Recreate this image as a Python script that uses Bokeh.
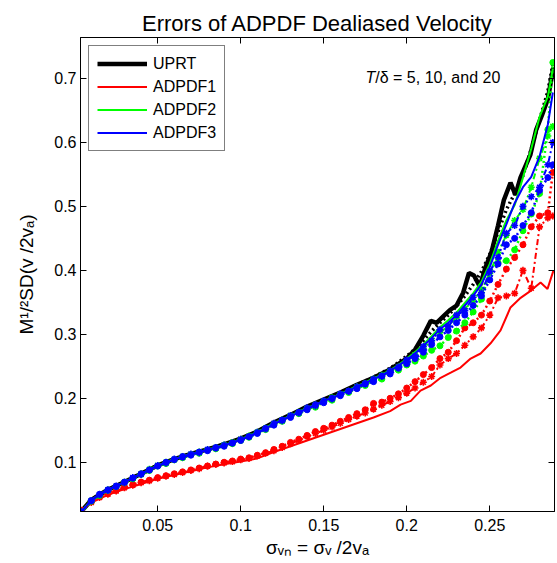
import math
from bokeh.plotting import figure
from bokeh.models import Range1d, FixedTicker, LinearAxis, Label, Legend, LegendItem
from bokeh.embed import file_html
from bokeh.resources import INLINE

FONT = "Liberation Sans"

# ---------------- data ----------------
x_ticks = [0.05, 0.1, 0.15, 0.2, 0.25]
x_tick_labels = ["0.05", "0.1", "0.15", "0.2", "0.25"]
y_ticks = [0.1, 0.2, 0.3, 0.4, 0.5, 0.6, 0.7]
y_tick_labels = ["0.1", "0.2", "0.3", "0.4", "0.5", "0.6", "0.7"]

legend_labels = ["UPRT", "ADPDF1", "ADPDF2", "ADPDF3"]
title_text = "Errors of ADPDF Dealiased Velocity"
x_label = "σᵥₙ = σᵥ /2vₐ"
y_label = "M¹/²SD(v /2vₐ)"

# common sampling of the sigma_vn axis used by most curves
xs = [0.004, 0.010, 0.015, 0.020, 0.025, 0.030, 0.035, 0.040, 0.045, 0.050,
      0.055, 0.060, 0.065, 0.070, 0.075, 0.080, 0.085, 0.090, 0.095, 0.100,
      0.105, 0.110, 0.115, 0.120, 0.125, 0.130, 0.135, 0.140, 0.145, 0.150,
      0.155, 0.160, 0.165, 0.170, 0.175, 0.180, 0.185, 0.190, 0.195, 0.200,
      0.205, 0.210, 0.215, 0.220, 0.225, 0.230, 0.235, 0.240, 0.245, 0.250,
      0.255, 0.260, 0.265, 0.270, 0.275, 0.280, 0.285, 0.288]

# UPRT, T/delta = 5 (thick solid)
uprt5_x = [0.004, 0.01, 0.02, 0.03, 0.04, 0.05, 0.06, 0.07, 0.08, 0.09, 0.10,
           0.11, 0.12, 0.13, 0.14, 0.15, 0.16, 0.17, 0.18, 0.19, 0.20,
           0.205, 0.21, 0.2145, 0.218, 0.222, 0.226, 0.23, 0.234, 0.2375, 0.2405,
           0.244, 0.2475, 0.251, 0.255, 0.2585, 0.2625, 0.2655, 0.2685, 0.2715,
           0.2745, 0.278, 0.2815, 0.285, 0.2884]
uprt5_y = [0.023, 0.041, 0.057, 0.069, 0.082, 0.095, 0.105, 0.113, 0.120, 0.128, 0.137,
           0.148, 0.162, 0.174, 0.187, 0.198, 0.209, 0.221, 0.232, 0.245, 0.262,
           0.276, 0.298, 0.321, 0.318, 0.328, 0.338, 0.345, 0.365, 0.396, 0.392,
           0.375, 0.405, 0.428, 0.470, 0.510, 0.537, 0.518, 0.545, 0.563,
           0.581, 0.620, 0.643, 0.668, 0.718]
# UPRT, T/delta = 20 (thick dotted)
uprt20_y = [0.023, 0.041, 0.050, 0.057, 0.063, 0.069, 0.076, 0.082, 0.089, 0.095,
            0.100, 0.105, 0.109, 0.113, 0.117, 0.120, 0.124, 0.128, 0.132, 0.137,
            0.142, 0.148, 0.155, 0.162, 0.168, 0.174, 0.180, 0.186, 0.192, 0.198,
            0.203, 0.209, 0.215, 0.221, 0.227, 0.233, 0.240, 0.247, 0.256, 0.266,
            0.277, 0.290, 0.305, 0.318, 0.330, 0.344, 0.360, 0.378, 0.398, 0.425,
            0.460, 0.495, 0.520, 0.548, 0.590, 0.635, 0.680, 0.722]

# ADPDF1
adpdf1_5_x = [0.004, 0.01, 0.02, 0.03, 0.04, 0.05, 0.06, 0.07, 0.08, 0.09, 0.10,
              0.11, 0.12, 0.13, 0.14, 0.15, 0.16, 0.17, 0.18, 0.19,
              0.1963, 0.2025, 0.2083, 0.2145, 0.2204, 0.2265, 0.2324, 0.2385, 0.2445,
              0.2505, 0.2565, 0.2625, 0.2686, 0.2746, 0.2806, 0.2848, 0.2884]
adpdf1_5_y = [0.025, 0.037, 0.049, 0.058, 0.066, 0.074, 0.080, 0.086, 0.092, 0.097, 0.101,
              0.106, 0.116, 0.125, 0.134, 0.143, 0.152, 0.161, 0.170, 0.180,
              0.190, 0.196, 0.212, 0.220, 0.232, 0.240, 0.248, 0.262, 0.270,
              0.286, 0.306, 0.342, 0.357, 0.368, 0.381, 0.371, 0.400]
adpdf1_10_y = [0.024, 0.037, 0.045, 0.050, 0.055, 0.060, 0.064, 0.068, 0.071, 0.075,
               0.078, 0.081, 0.084, 0.087, 0.090, 0.094, 0.097, 0.099, 0.101, 0.104,
               0.106, 0.110, 0.114, 0.118, 0.123, 0.129, 0.134, 0.140, 0.145, 0.150,
               0.155, 0.161, 0.167, 0.172, 0.177, 0.183, 0.189, 0.195, 0.201, 0.208,
               0.216, 0.225, 0.234, 0.252, 0.262, 0.270, 0.283, 0.296, 0.310, 0.330,
               0.357, 0.360, 0.364, 0.400, 0.372, 0.468, 0.482, 0.485]
adpdf1_20_y = [0.025, 0.038, 0.046, 0.051, 0.056, 0.061, 0.065, 0.069, 0.072, 0.076,
               0.079, 0.082, 0.085, 0.088, 0.091, 0.094, 0.097, 0.100, 0.102, 0.105,
               0.107, 0.111, 0.115, 0.120, 0.125, 0.131, 0.136, 0.142, 0.148, 0.153,
               0.158, 0.164, 0.170, 0.176, 0.182, 0.192, 0.194, 0.200, 0.207, 0.216,
               0.226, 0.237, 0.248, 0.262, 0.272, 0.290, 0.310, 0.318, 0.330, 0.352,
               0.378, 0.402, 0.420, 0.440, 0.468, 0.485, 0.490, 0.553]

# ADPDF2
adpdf2_5_y = [0.023, 0.041, 0.050, 0.057, 0.063, 0.069, 0.076, 0.082, 0.088, 0.094,
              0.100, 0.105, 0.109, 0.113, 0.116, 0.120, 0.123, 0.127, 0.131, 0.136,
              0.141, 0.147, 0.154, 0.161, 0.167, 0.173, 0.179, 0.185, 0.190, 0.196,
              0.201, 0.207, 0.213, 0.219, 0.225, 0.231, 0.237, 0.244, 0.252, 0.262,
              0.272, 0.284, 0.297, 0.311, 0.322, 0.334, 0.349, 0.364, 0.382, 0.410,
              0.446, 0.478, 0.502, 0.545, 0.590, 0.640, 0.672, 0.715]
adpdf2_10_y = [0.022, 0.040, 0.049, 0.057, 0.062, 0.068, 0.075, 0.082, 0.089, 0.095,
               0.100, 0.104, 0.109, 0.112, 0.116, 0.119, 0.123, 0.127, 0.131, 0.136,
               0.141, 0.147, 0.153, 0.159, 0.166, 0.173, 0.178, 0.183, 0.190, 0.195,
               0.201, 0.206, 0.211, 0.218, 0.223, 0.230, 0.236, 0.242, 0.249, 0.258,
               0.268, 0.278, 0.290, 0.303, 0.313, 0.327, 0.340, 0.352, 0.370, 0.395,
               0.428, 0.455, 0.478, 0.495, 0.530, 0.575, 0.610, 0.625]
adpdf2_20_y = [0.021, 0.039, 0.048, 0.056, 0.062, 0.069, 0.074, 0.081, 0.087, 0.094,
               0.098, 0.104, 0.107, 0.112, 0.114, 0.119, 0.121, 0.126, 0.129, 0.134,
               0.139, 0.146, 0.151, 0.160, 0.164, 0.172, 0.176, 0.184, 0.186, 0.195,
               0.197, 0.206, 0.209, 0.216, 0.220, 0.228, 0.230, 0.241, 0.244, 0.252,
               0.258, 0.266, 0.275, 0.282, 0.295, 0.305, 0.318, 0.335, 0.355, 0.398,
               0.412, 0.415, 0.432, 0.462, 0.488, 0.520, 0.620, 0.725]

# ADPDF3
adpdf3_5_y = [0.022, 0.041, 0.050, 0.057, 0.063, 0.069, 0.075, 0.082, 0.088, 0.094,
              0.099, 0.104, 0.109, 0.112, 0.116, 0.119, 0.123, 0.126, 0.131, 0.135,
              0.141, 0.146, 0.153, 0.160, 0.166, 0.172, 0.178, 0.184, 0.190, 0.196,
              0.201, 0.206, 0.212, 0.218, 0.224, 0.230, 0.236, 0.243, 0.251, 0.260,
              0.270, 0.282, 0.294, 0.308, 0.318, 0.330, 0.345, 0.360, 0.378, 0.405,
              0.440, 0.472, 0.505, 0.530, 0.546, 0.578, 0.628, 0.678]
adpdf3_10_y = [0.023, 0.040, 0.049, 0.056, 0.063, 0.068, 0.076, 0.081, 0.088, 0.095,
               0.099, 0.105, 0.108, 0.113, 0.115, 0.120, 0.122, 0.127, 0.130, 0.136,
               0.140, 0.147, 0.152, 0.161, 0.165, 0.173, 0.177, 0.185, 0.188, 0.196,
               0.199, 0.207, 0.211, 0.218, 0.222, 0.230, 0.234, 0.243, 0.249, 0.260,
               0.266, 0.281, 0.290, 0.307, 0.312, 0.330, 0.337, 0.358, 0.365, 0.398,
               0.420, 0.458, 0.470, 0.500, 0.515, 0.530, 0.565, 0.600]
adpdf3_20_y = [0.022, 0.040, 0.050, 0.057, 0.062, 0.069, 0.075, 0.082, 0.088, 0.094,
               0.100, 0.104, 0.109, 0.111, 0.116, 0.118, 0.123, 0.125, 0.130, 0.134,
               0.140, 0.145, 0.153, 0.158, 0.166, 0.170, 0.178, 0.182, 0.190, 0.193,
               0.200, 0.204, 0.211, 0.215, 0.223, 0.226, 0.235, 0.238, 0.247, 0.254,
               0.262, 0.272, 0.284, 0.296, 0.306, 0.318, 0.330, 0.345, 0.360, 0.385,
               0.410, 0.440, 0.450, 0.470, 0.490, 0.525, 0.545, 0.565]

# ---------------- figure ----------------
W, H = 557, 563
ML, MR, MT, MB = 80, 3, 37, 52
p = figure(width=W, height=H, x_range=Range1d(0.0035, 0.289), y_range=Range1d(0.023, 0.764),
           output_backend="svg", toolbar_location=None,
           min_border_left=ML, min_border_right=MR, min_border_top=MT, min_border_bottom=MB)
p.xgrid.visible = False
p.ygrid.visible = False
p.outline_line_color = "black"
p.outline_line_width = 1
p.background_fill_color = "white"
p.border_fill_color = "white"

p.title.text = title_text
p.title.align = "center"
p.title.offset = 6
p.title.text_font = FONT
p.title.text_font_size = "22px"
p.title.text_font_style = "normal"
p.title.text_color = "black"
p.title.standoff = 4


def style_axis(ax, ticks, labels, show):
    ax.ticker = FixedTicker(ticks=ticks)
    ax.major_tick_in = 6
    ax.major_tick_out = 0
    ax.minor_tick_in = 0
    ax.minor_tick_out = 0
    ax.axis_line_color = "black"
    ax.major_tick_line_color = "black"
    if show:
        ax.major_label_overrides = {t: l for t, l in zip(ticks, labels)}
        ax.major_label_text_font = FONT
        ax.major_label_text_font_size = "16px"
        ax.major_label_text_color = "black"
        ax.axis_label_text_font = FONT
        ax.axis_label_text_font_size = "19px"
        ax.axis_label_text_font_style = "normal"
        ax.axis_label_text_color = "black"
    else:
        # mirror axis: ticks only, no labels drawn
        ax.major_label_text_font_size = "0px"
        ax.major_label_text_color = None
        ax.major_label_standoff = 0


xa = p.below[0]
style_axis(xa, x_ticks, x_tick_labels, True)
xa.major_label_standoff = 7
xa.axis_label = x_label
xa.axis_label_standoff = 3
ya = p.left[0]
style_axis(ya, y_ticks, y_tick_labels, True)
ya.major_label_standoff = 4
ya.axis_label = y_label
ya.axis_label_standoff = 14
top_ax = LinearAxis()
style_axis(top_ax, x_ticks, x_tick_labels, False)
p.add_layout(top_ax, "above")
right_ax = LinearAxis()
style_axis(right_ax, y_ticks, y_tick_labels, False)
p.add_layout(right_ax, "right")

RED, GREEN, BLUE, BLACK = "#FF0000", "#00FF00", "#0000FF", "#000000"
DASHDOT = "6 3 2 3"
DOTTED = "2 3"

# UPRT
u5 = p.line(uprt5_x, uprt5_y, line_color=BLACK, line_width=4.5)
p.line(xs, uprt20_y, line_color=BLACK, line_width=3.5, line_dash=DOTTED)


def method(color, y5, y10, y20, x5=None):
    r = p.line(x5 if x5 is not None else xs, y5, line_color=color, line_width=2)
    p.line(xs, y10, line_color=color, line_width=2, line_dash=DASHDOT)
    p.scatter(xs, y10, marker="asterisk", size=7, line_color=color, line_width=1.6)
    p.line(xs, y20, line_color=color, line_width=2.5, line_dash=DOTTED)
    p.scatter(xs, y20, marker="circle", size=6, line_color=color, fill_color=color)
    return r


r1 = method(RED, adpdf1_5_y, adpdf1_10_y, adpdf1_20_y, adpdf1_5_x)
r2 = method(GREEN, adpdf2_5_y, adpdf2_10_y, adpdf2_20_y)
r3 = method(BLUE, adpdf3_5_y, adpdf3_10_y, adpdf3_20_y)

legend = Legend(items=[LegendItem(label=l, renderers=[r]) for l, r in zip(legend_labels, [u5, r1, r2, r3])],
                location="top_left", margin=8, padding=8, spacing=4,
                glyph_width=50, glyph_height=19, label_height=19, label_standoff=6,
                label_text_font=FONT, label_text_font_size="16px", label_text_color="black",
                border_line_color="black", border_line_width=1,
                background_fill_color="white", background_fill_alpha=1.0)
p.add_layout(legend)

# annotation inside the axes (frame-relative screen units)
FB = H - MB
T_W = 611 * 16 / 1000.0
for t, dx, st in [("T", 0.0, "italic"), ("/δ = 5, 10, and 20", T_W, "normal")]:
    p.add_layout(Label(x=365 - ML + dx, y=FB - 77, x_units="screen", y_units="screen", text=t,
                       text_font=FONT, text_font_size="16px", text_font_style=st,
                       text_color="black", text_align="left", text_baseline="alphabetic"))

open("out.html", "w").write(file_html(p, INLINE))
